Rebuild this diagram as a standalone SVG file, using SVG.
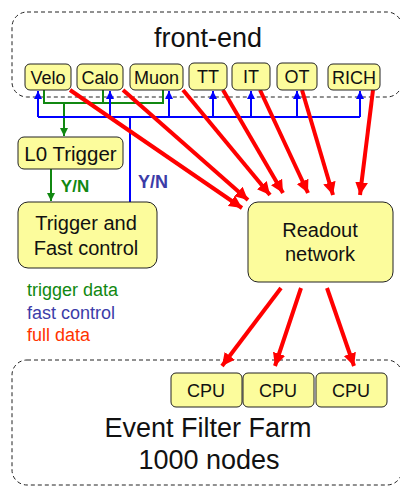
<svg xmlns="http://www.w3.org/2000/svg" width="400" height="487" viewBox="0 0 400 487">
<defs>
<marker id="ar" viewBox="0 0 10 10" refX="10" refY="5" markerWidth="3.2" markerHeight="3.2" orient="auto" markerUnits="strokeWidth"><path d="M0,0 L10,5 L0,10 z" fill="#ff0000"/></marker>
<marker id="ab" viewBox="0 0 10 10" refX="10" refY="5" markerWidth="4" markerHeight="4" orient="auto" markerUnits="strokeWidth"><path d="M0,0 L10,5 L0,10 z" fill="#0000ff"/></marker>
<marker id="ag" viewBox="0 0 10 10" refX="10" refY="5" markerWidth="4" markerHeight="4" orient="auto" markerUnits="strokeWidth"><path d="M0,0 L10,5 L0,10 z" fill="#118811"/></marker>
</defs>
<style>
text{font-family:"Liberation Sans",Arial,sans-serif;fill:#111;text-anchor:middle}
.box{fill:#fcfc9c;stroke:#222;stroke-width:1}
.dash{fill:none;stroke:#222;stroke-width:1;stroke-dasharray:4,3}
.red{stroke:#ff0000;stroke-width:4;fill:none;marker-end:url(#ar)}
.blue{stroke:#0000ff;stroke-width:2;fill:none}
.green{stroke:#118811;stroke-width:2;fill:none}
.n{font-size:18px}
.b{font-size:20px}
.big{font-size:27px}
</style>
<rect class="dash" x="12" y="12" width="390" height="85" rx="15"/>
<rect class="dash" x="12" y="360" width="390" height="125" rx="15"/>
<text class="big" x="208" y="47">front-end</text>
<text class="big" x="208" y="437">Event Filter Farm</text>
<text class="big" x="209" y="469">1000 nodes</text>
<g id="connectors">
<path class="green" d="M44,90 V103 H163 V90 M103,90 V103"/>
<path class="green" d="M64,103 V136" marker-end="url(#ag)"/>
<path class="green" d="M51,169 V201" marker-end="url(#ag)"/>
<path class="blue" d="M38,117 H360 M130,117 V202"/>
<path class="blue" d="M38,117 V91" marker-end="url(#ab)"/>
<path class="blue" d="M110,117 V91" marker-end="url(#ab)"/>
<path class="blue" d="M169,117 V91" marker-end="url(#ab)"/>
<path class="blue" d="M213,117 V91" marker-end="url(#ab)"/>
<path class="blue" d="M251,117 V91" marker-end="url(#ab)"/>
<path class="blue" d="M297,117 V91" marker-end="url(#ab)"/>
<path class="blue" d="M360,117 V91" marker-end="url(#ab)"/>
<path class="red" d="M70,90 L242,208"/>
<path class="red" d="M123,90 L248,200"/>
<path class="red" d="M183,90 L270,195"/>
<path class="red" d="M223,90 L283,193"/>
<path class="red" d="M260,90 L308,193"/>
<path class="red" d="M302,90 L333,195"/>
<path class="red" d="M373,90 L360,195"/>
<path class="red" d="M281,288 L222,366"/>
<path class="red" d="M301,288 L275,366"/>
<path class="red" d="M327,288 L354,366"/>
<text x="75" y="192" style="font-size:17px;font-weight:bold;fill:#118811">Y/N</text>
<text x="153" y="188" style="font-size:18px;font-weight:bold;fill:#3c3ca8">Y/N</text>
</g>
<g id="velo"><rect class="box" x="25" y="64" width="46" height="26" rx="5"/><text class="n" x="48" y="84">Velo</text></g>
<g id="calo"><rect class="box" x="77" y="64" width="46" height="26" rx="5"/><text class="n" x="100" y="84">Calo</text></g>
<g id="muon"><rect class="box" x="130" y="64" width="53" height="26" rx="5"/><text class="n" x="156.5" y="84">Muon</text></g>
<g id="tt"><rect class="box" x="189" y="63" width="38" height="27" rx="5"/><text class="n" x="208" y="83">TT</text></g>
<g id="it"><rect class="box" x="232" y="63" width="38" height="27" rx="5"/><text class="n" x="251" y="83">IT</text></g>
<g id="ot"><rect class="box" x="277" y="63" width="40" height="27" rx="5"/><text class="n" x="297" y="83">OT</text></g>
<g id="rich"><rect class="box" x="328" y="64" width="52" height="26" rx="5"/><text class="n" x="354" y="84">RICH</text></g>
<g id="l0"><rect class="box" x="18" y="137" width="105" height="32" rx="6"/><text x="70.5" y="161" style="font-size:20.5px">L0 Trigger</text></g>
<g id="tfc"><rect class="box" x="18" y="202" width="139" height="66" rx="10"/><text class="b" x="86" y="230">Trigger and</text><text class="b" x="86" y="255">Fast control</text></g>
<g id="readout"><rect class="box" x="248" y="202" width="145" height="80" rx="10"/><text class="b" x="320" y="237">Readout</text><text class="b" x="320" y="261">network</text></g>
<g id="cpu1"><rect class="box" x="171" y="373" width="71" height="34" rx="5"/><text class="n" x="206" y="397">CPU</text></g>
<g id="cpu2"><rect class="box" x="243" y="373" width="71" height="34" rx="5"/><text class="n" x="278" y="397">CPU</text></g>
<g id="cpu3"><rect class="box" x="316" y="373" width="71" height="34" rx="5"/><text class="n" x="351" y="397">CPU</text></g>
<g id="legend" style="text-anchor:start">
<text x="27" y="296" style="font-size:18px;fill:#118811;text-anchor:start">trigger data</text>
<text x="27" y="319" style="font-size:18px;fill:#3c3ca8;text-anchor:start">fast control</text>
<text x="27" y="341" style="font-size:18px;fill:#ff3300;text-anchor:start">full data</text>
</g>
</svg>
